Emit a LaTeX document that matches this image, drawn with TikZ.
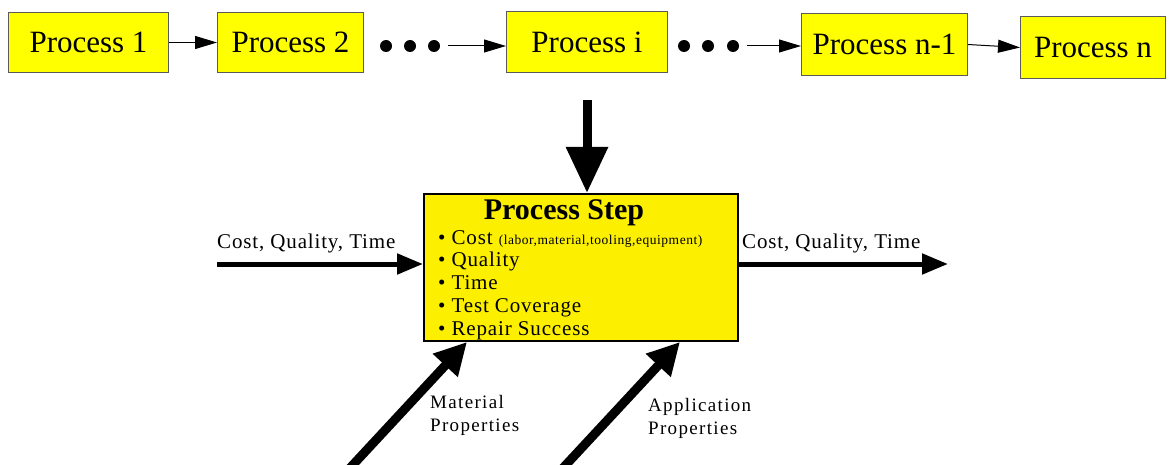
\documentclass[tikz,border=0pt]{standalone}
\usepackage{fontspec}
\setmainfont{Liberation Serif}
\newfontfamily\widefont[LetterSpace=4]{Liberation Serif}
\newfontfamily\widerfont[LetterSpace=7]{Liberation Serif}
\usetikzlibrary{arrows.meta}
\definecolor{boxyellow}{RGB}{255,255,0}
\definecolor{stepyellow}{RGB}{252,240,0}
\definecolor{boxedge}{RGB}{90,90,90}
\tikzset{
  x=1pt,y=-1pt,
  procbox/.style={draw=boxedge,line width=1pt,fill=boxyellow,inner sep=0pt,
    font=\fontsize{31}{33}\selectfont,anchor=north west},
  dotnode/.style={circle,fill=black,inner sep=0pt,minimum size=12pt},
  thinarrow/.style={line width=1pt,-{Triangle[length=22pt,width=13pt]}},
  bigarrow/.style={line width=5pt,-{Triangle[length=26pt,width=20pt]}},
  diagarrow/.style={line width=9pt,-{Triangle[length=32pt,width=32pt]}},
  labeltext/.style={font=\widefont\fontsize{21}{23}\selectfont,inner sep=0pt},
  itemtext/.style={font=\widefont\fontsize{21}{22}\selectfont,inner sep=0pt,anchor=base west},
  smalllabel/.style={font=\widerfont\fontsize{19}{23}\selectfont,inner sep=0pt,anchor=north west,align=left},
}
\begin{document}
\begin{tikzpicture}
\useasboundingbox (0,0) rectangle (1172,465);
% top row boxes
\node[procbox,minimum width=160pt,minimum height=60pt] (p1) at (8,12) {Process 1};
\node[procbox,minimum width=146pt,minimum height=60pt] (p2) at (217,12) {Process 2};
\node[procbox,minimum width=161pt,minimum height=61pt] (pi) at (506,11) {Process i};
\node[procbox,minimum width=166pt,minimum height=62pt] (pn1) at (801,13) {Process n-1};
\node[procbox,minimum width=145pt,minimum height=62pt] (pn) at (1020,16) {Process n};
% dots
\node[dotnode] (d1) at (386,46) {};
\node[dotnode] (d2) at (410,46) {};
\node[dotnode] (d3) at (434,46) {};
\node[dotnode] (d4) at (684,46) {};
\node[dotnode] (d5) at (708,46) {};
\node[dotnode] (d6) at (733,46) {};
% top arrows
\draw[thinarrow] (p1.east) -- (p2.west);
\draw[thinarrow,shorten <=8pt] (d3.east) -- (d3.east -| pi.west);
\draw[thinarrow,shorten <=8pt] (d6.east) -- (d6.east -| pn1.west);
\draw[thinarrow] (pn1.east) -- (pn.west);
% process step box
\node[draw=black,line width=2.2pt,fill=stepyellow,minimum width=314pt,minimum height=147pt,anchor=north west,inner sep=0pt] (ps) at (423,193) {};
\coordinate (top) at (587,100);
\draw[line width=9pt,-{Triangle[length=46pt,width=40pt]}] (top) -- (ps.north -| top);
\node[font=\bfseries\fontsize{30}{32}\selectfont,inner sep=0pt] (title) at (564,213) {Process Step};
\node[itemtext] (i1) at (438,244) {\textbullet\ Cost {\fontsize{13.5}{13.5}\selectfont(labor,material,tooling,equipment)}};
\node[itemtext] (i2) at (438,266) {\textbullet\ Quality};
\node[itemtext] (i3) at (438,289) {\textbullet\ Time};
\node[itemtext] (i4) at (438,312) {\textbullet\ Test Coverage};
\node[itemtext] (i5) at (438,335) {\textbullet\ Repair Success};
% side arrows
\coordinate (inL) at (217,264);
\coordinate (psL) at (423,264);
\coordinate (psR) at (737,264);
\coordinate (outR) at (948,264);
\draw[bigarrow] (inL) -- (psL);
\draw[bigarrow] (psR) -- (outR);
\node[labeltext,anchor=west] (lblL) at (217,243) {Cost, Quality, Time};
\node[labeltext,anchor=west] (lblR) at (742,243) {Cost, Quality, Time};
% bottom arrows
\coordinate (m0) at (350,468);
\coordinate (m1) at (467,342);
\coordinate (a0) at (563,468);
\coordinate (a1) at (680,342);
\draw[diagarrow] (m0) -- (m1);
\draw[diagarrow] (a0) -- (a1);
\node[smalllabel] (lm) at (430,395) {Material\\Properties};
\node[smalllabel] (la) at (648,398) {Application\\Properties};
\end{tikzpicture}
\end{document}
